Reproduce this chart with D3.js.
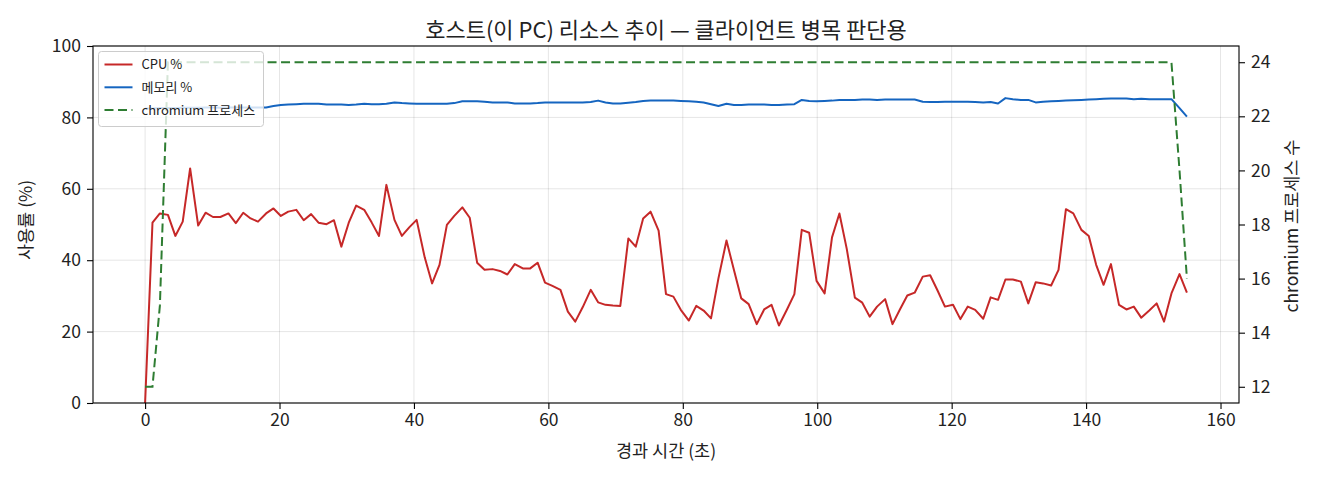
<!DOCTYPE html>
<html>
<head>
<meta charset="utf-8">
<script src="https://cdn.jsdelivr.net/npm/d3@7"></script>
<style>
body { margin: 0; background: #fff; }
text { font-family: "Noto Sans CJK KR", "Noto Sans", sans-serif; fill: #222; }
</style>
</head>
<body>
<svg id="chart" width="1320" height="480"></svg>
<script>
// elapsed seconds of each sample
var elapsed = [
  0, 1.1, 2.2, 3.4, 4.5, 5.6, 6.7, 7.9, 9.0, 10.1,
  11.2, 12.4, 13.5, 14.6, 15.7, 16.8, 18.0, 19.1, 20.2, 21.3,
  22.5, 23.6, 24.7, 25.8, 27.0, 28.1, 29.2, 30.3, 31.4, 32.6,
  33.7, 34.8, 35.9, 37.1, 38.2, 39.3, 40.4, 41.6, 42.7, 43.8,
  44.9, 46.0, 47.2, 48.3, 49.4, 50.5, 51.7, 52.8, 53.9, 55.0,
  56.2, 57.3, 58.4, 59.5, 60.6, 61.8, 62.9, 64.0, 65.1, 66.3,
  67.4, 68.5, 69.6, 70.7, 71.9, 73.0, 74.1, 75.2, 76.4, 77.5,
  78.6, 79.7, 80.9, 82.0, 83.1, 84.2, 85.3, 86.5, 87.6, 88.7,
  89.8, 91.0, 92.1, 93.2, 94.3, 95.5, 96.6, 97.7, 98.8, 99.9,
  101.1, 102.2, 103.3, 104.4, 105.6, 106.7, 107.8, 108.9, 110.1, 111.2,
  112.3, 113.4, 114.5, 115.7, 116.8, 117.9, 119.0, 120.2, 121.3, 122.4,
  123.5, 124.7, 125.8, 126.9, 128.0, 129.1, 130.3, 131.4, 132.5, 133.6,
  134.8, 135.9, 137.0, 138.1, 139.3, 140.4, 141.5, 142.6, 143.7, 144.9,
  146.0, 147.1, 148.2, 149.4, 150.5, 151.6, 152.7, 153.9, 155.0
];

// CPU usage %
var cpuPct = [
  0, 50.5, 53.1, 52.7, 46.8, 50.8, 65.7, 49.7, 53.3, 52.1,
  52.1, 53.1, 50.4, 53.3, 51.7, 50.8, 53.1, 54.5, 52.4, 53.6,
  54.1, 51.2, 52.9, 50.5, 50.1, 51.2, 43.8, 50.5, 55.3, 54.1,
  50.6, 46.8, 61.1, 51.3, 46.8, 49.2, 51.3, 40.8, 33.5, 38.7,
  49.9, 52.4, 54.8, 51.9, 39.3, 37.3, 37.5, 37.0, 36.0, 38.9,
  37.7, 37.7, 39.3, 33.7, 32.8, 31.7, 25.6, 22.8, 26.8, 31.7,
  28.2, 27.5, 27.3, 27.2, 46.1, 43.8, 51.7, 53.6, 48.3, 30.5,
  29.8, 26.1, 23.1, 27.2, 25.9, 23.7, 34.9, 45.5, 37.3, 29.3,
  27.7, 22.1, 26.2, 27.5, 21.7, 26.2, 30.5, 48.5, 47.7, 34.2,
  30.7, 46.4, 53.1, 43.1, 29.5, 28.1, 24.2, 27.0, 29.1, 22.1,
  26.2, 30.1, 30.9, 35.4, 35.8, 31.5, 27.0, 27.5, 23.5, 27.0,
  26.1, 23.6, 29.6, 28.9, 34.6, 34.6, 34.0, 27.9, 33.8, 33.5,
  32.9, 37.3, 54.3, 53.1, 48.5, 46.8, 38.7, 33.1, 38.9, 27.5,
  26.2, 27.0, 23.9, 25.9, 27.9, 22.8, 30.7, 36.1, 30.9
];

// memory usage %
var memPct = [
  82.5, 82.5, 82.6, 82.6, 82.6, 82.7, 82.7, 82.7, 82.8, 82.8,
  82.7, 82.8, 82.8, 82.8, 82.8, 82.8, 82.8, 83.2, 83.5, 83.6,
  83.7, 83.8, 83.8, 83.8, 83.6, 83.6, 83.6, 83.5, 83.6, 83.8,
  83.7, 83.7, 83.8, 84.2, 84.0, 83.9, 83.8, 83.8, 83.8, 83.8,
  83.8, 84.0, 84.5, 84.5, 84.5, 84.4, 84.2, 84.2, 84.2, 83.9,
  83.9, 83.9, 84.0, 84.2, 84.2, 84.2, 84.2, 84.2, 84.2, 84.3,
  84.7, 84.2, 83.9, 83.9, 84.1, 84.3, 84.6, 84.7, 84.7, 84.7,
  84.7, 84.6, 84.5, 84.4, 84.2, 83.7, 83.2, 83.8, 83.5, 83.5,
  83.6, 83.6, 83.6, 83.5, 83.5, 83.6, 83.7, 84.9, 84.6, 84.5,
  84.6, 84.7, 84.9, 84.9, 84.9, 85.0, 85.0, 84.9, 85.0, 85.0,
  85.0, 85.0, 85.0, 84.4, 84.3, 84.3, 84.4, 84.4, 84.4, 84.4,
  84.3, 84.2, 84.3, 83.9, 85.4, 85.1, 84.9, 84.9, 84.2, 84.4,
  84.5, 84.6, 84.7, 84.8, 84.9, 85.0, 85.1, 85.2, 85.3, 85.3,
  85.3, 85.1, 85.2, 85.1, 85.1, 85.1, 85.1, 82.6, 80.2
];

// number of chromium processes
var procCount = [
  12, 12, 15, 24, 24, 24, 24, 24, 24, 24,
  24, 24, 24, 24, 24, 24, 24, 24, 24, 24,
  24, 24, 24, 24, 24, 24, 24, 24, 24, 24,
  24, 24, 24, 24, 24, 24, 24, 24, 24, 24,
  24, 24, 24, 24, 24, 24, 24, 24, 24, 24,
  24, 24, 24, 24, 24, 24, 24, 24, 24, 24,
  24, 24, 24, 24, 24, 24, 24, 24, 24, 24,
  24, 24, 24, 24, 24, 24, 24, 24, 24, 24,
  24, 24, 24, 24, 24, 24, 24, 24, 24, 24,
  24, 24, 24, 24, 24, 24, 24, 24, 24, 24,
  24, 24, 24, 24, 24, 24, 24, 24, 24, 24,
  24, 24, 24, 24, 24, 24, 24, 24, 24, 24,
  24, 24, 24, 24, 24, 24, 24, 24, 24, 24,
  24, 24, 24, 24, 24, 24, 24, 20, 16
];

var xTicks = [0, 20, 40, 60, 80, 100, 120, 140, 160];
var yTicks = [0, 20, 40, 60, 80, 100];
var y2Ticks = [12, 14, 16, 18, 20, 22, 24];

var seriesNames = ["CPU %", "메모리 %", "chromium 프로세스"];
var seriesColors = ["#c62828", "#1565c0", "#2e7d32"];

// plot box (named to avoid window.top)
var plotL = 93, plotR = 1239, plotT = 46, plotB = 403;
var tickFont = "17.5px", labelFont = "17.5px";

var svg = d3.select("#chart");

var xScale = d3.scaleLinear().domain([-7.75, 162.75]).range([plotL, plotR]);
var yScale = d3.scaleLinear().domain([0, 100]).range([plotB, plotT]);
var y2Scale = d3.scaleLinear().domain([11.4, 24.6]).range([plotB, plotT]);

// grid
svg.append("g").selectAll("line").data(xTicks).enter().append("line")
  .attr("x1", d => xScale(d)).attr("x2", d => xScale(d))
  .attr("y1", plotT).attr("y2", plotB)
  .attr("stroke", "#000").attr("stroke-opacity", 0.1).attr("stroke-width", 1);
svg.append("g").selectAll("line").data(yTicks).enter().append("line")
  .attr("x1", plotL).attr("x2", plotR)
  .attr("y1", d => yScale(d)).attr("y2", d => yScale(d))
  .attr("stroke", "#000").attr("stroke-opacity", 0.1).attr("stroke-width", 1);

// axes
var xAxis = svg.append("g")
  .attr("transform", "translate(0," + plotB + ")")
  .call(d3.axisBottom(xScale).tickValues(xTicks).tickSize(6).tickPadding(5));
var yAxis = svg.append("g")
  .attr("transform", "translate(" + plotL + ",0)")
  .call(d3.axisLeft(yScale).tickValues(yTicks).tickSize(6).tickPadding(6));
var y2Axis = svg.append("g")
  .attr("transform", "translate(" + plotR + ",0)")
  .call(d3.axisRight(y2Scale).tickValues(y2Ticks).tickSize(6).tickPadding(6));

[xAxis, yAxis, y2Axis].forEach(function(a) {
  a.select(".domain").remove();
  a.selectAll("line").attr("stroke", "#000").attr("stroke-width", 1.1);
  a.selectAll("text").style("font-size", tickFont).attr("fill", "#222");
});

// lines
var rows = elapsed.map(function(t, i) {
  return { t: t, cpu: cpuPct[i], mem: memPct[i], proc: procCount[i] };
});

var cpuLine = d3.line().x(d => xScale(d.t)).y(d => yScale(d.cpu));
var memLine = d3.line().x(d => xScale(d.t)).y(d => yScale(d.mem));
var procLine = d3.line().x(d => xScale(d.t)).y(d => y2Scale(d.proc));

svg.append("path").datum(rows)
  .attr("fill", "none").attr("stroke", seriesColors[0]).attr("stroke-width", 2)
  .attr("stroke-linejoin", "round").attr("d", cpuLine);
svg.append("path").datum(rows)
  .attr("fill", "none").attr("stroke", seriesColors[1]).attr("stroke-width", 2)
  .attr("stroke-linejoin", "round").attr("d", memLine);
svg.append("path").datum(rows)
  .attr("fill", "none").attr("stroke", seriesColors[2]).attr("stroke-width", 2)
  .attr("stroke-dasharray", "9,4.5").attr("d", procLine);

// frame
svg.append("rect")
  .attr("x", plotL).attr("y", plotT)
  .attr("width", plotR - plotL).attr("height", plotB - plotT)
  .attr("fill", "none").attr("stroke", "#000").attr("stroke-width", 1.1);

// titles
svg.append("text")
  .attr("x", (plotL + plotR) / 2).attr("y", 37.5)
  .attr("text-anchor", "middle").style("font-size", "22px")
  .text("호스트(이 PC) 리소스 추이 — 클라이언트 병목 판단용");

svg.append("text")
  .attr("x", (plotL + plotR) / 2).attr("y", 457)
  .attr("text-anchor", "middle").style("font-size", labelFont)
  .text("경과 시간 (초)");

svg.append("text")
  .attr("transform", "translate(32,220) rotate(-90)")
  .attr("text-anchor", "middle").style("font-size", labelFont)
  .text("사용률 (%)");

svg.append("text")
  .attr("transform", "translate(1298,226) rotate(-90)")
  .attr("text-anchor", "middle").style("font-size", labelFont)
  .text("chromium 프로세스 수");

// legend
var legend = svg.append("g").attr("transform", "translate(98.5,51.5)");
legend.append("rect")
  .attr("width", 165).attr("height", 75).attr("rx", 3)
  .attr("fill", "#fff").attr("fill-opacity", 0.8)
  .attr("stroke", "#ccc").attr("stroke-width", 1);

var entries = legend.selectAll("g.entry").data(seriesNames).enter().append("g")
  .attr("class", "entry")
  .attr("transform", function(d, i) { return "translate(0," + (13 + i * 22.8) + ")"; });
entries.append("line")
  .attr("x1", 6).attr("x2", 34).attr("y1", 0).attr("y2", 0)
  .attr("stroke", (d, i) => seriesColors[i]).attr("stroke-width", 2)
  .attr("stroke-dasharray", (d, i) => i === 2 ? "9,4.5" : null);
entries.append("text")
  .attr("x", 43).attr("y", 4.5).style("font-size", "13px")
  .text(d => d);
</script>
</body>
</html>
